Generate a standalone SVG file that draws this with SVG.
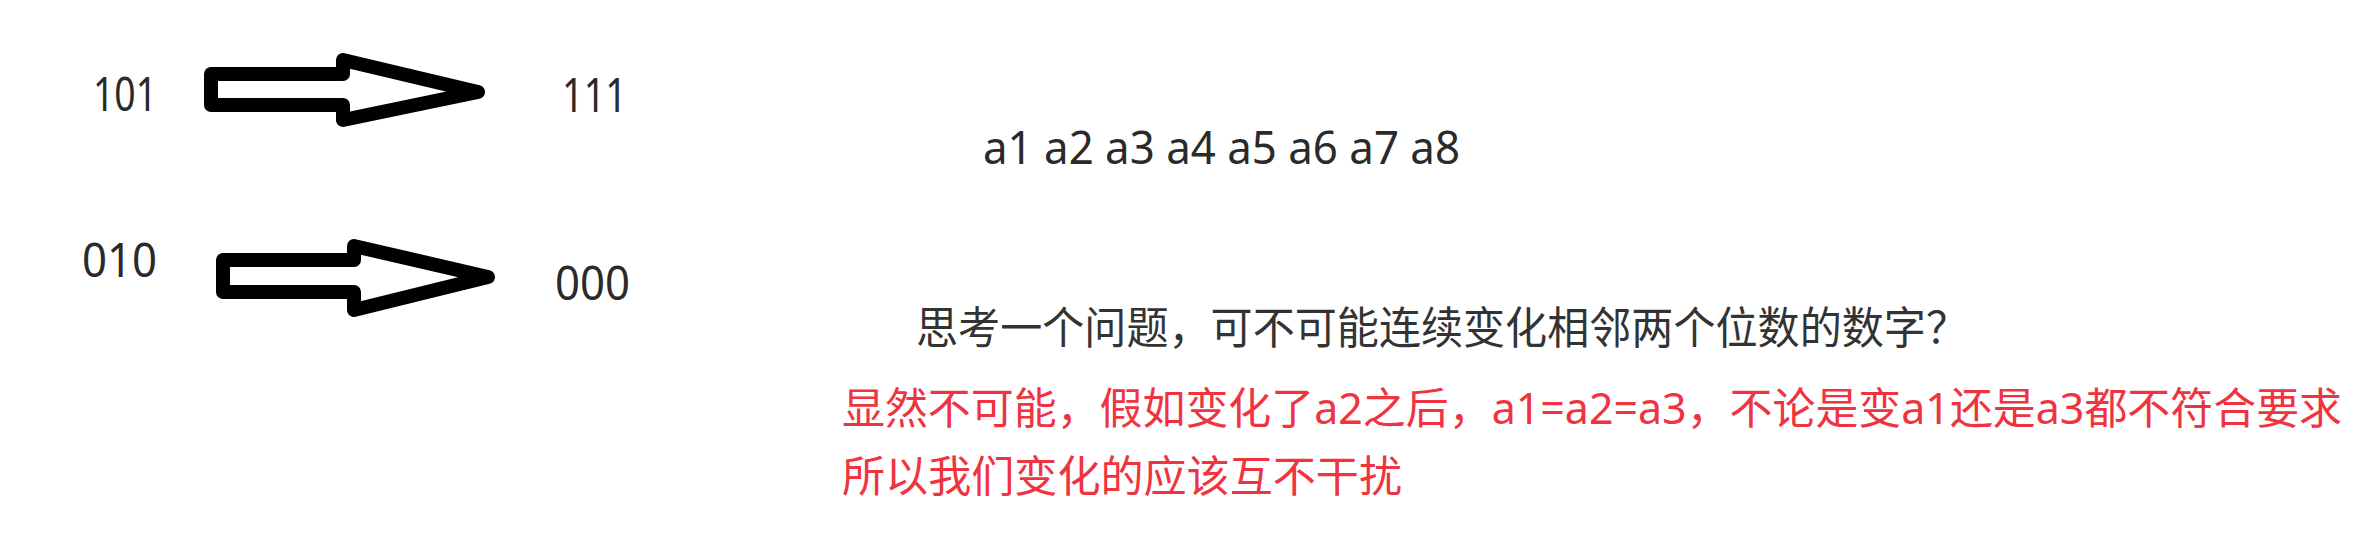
<svg xmlns="http://www.w3.org/2000/svg" width="2357" height="549" viewBox="0 0 2357 549">
<style>
.num{font-family:"Noto Sans","Open Sans","Liberation Sans",sans-serif;font-size:48px;fill:#2a2a2a;}
.seq{font-family:"Noto Sans","Open Sans","Liberation Sans",sans-serif;font-size:45px;fill:#2a2a2a;}
.cn{font-family:"Noto Sans","Noto Sans CJK SC",sans-serif;font-size:44px;fill:#333333;}
.red{font-family:"Noto Sans","Noto Sans CJK SC",sans-serif;font-size:43px;fill:#ef3340;}
.arrow{fill:#ffffff;stroke:#000000;stroke-width:14;stroke-linejoin:round;}
</style>
<rect width="2357" height="549" fill="#ffffff"/>
<g id="n101"><text class="num" x="93" y="111" textLength="64" lengthAdjust="spacingAndGlyphs">101</text></g>
<g id="n111"><text class="num" x="562" y="112" textLength="65" lengthAdjust="spacingAndGlyphs">111</text></g>
<g id="n010"><text class="num" x="82" y="277" textLength="75" lengthAdjust="spacingAndGlyphs">010</text></g>
<g id="n000"><text class="num" x="555" y="300" textLength="75" lengthAdjust="spacingAndGlyphs">000</text></g>
<g id="connectors">
<polygon class="arrow" points="211,74 343,74 343,60 478,92 343,120 343,105 211,105"/>
<polygon class="arrow" points="223,260 354,260 354,246 488,277 354,310 354,292 223,292"/>
</g>
<g id="seq"><text class="seq" x="983" y="164" textLength="477" lengthAdjust="spacingAndGlyphs">a1 a2 a3 a4 a5 a6 a7 a8</text></g>
<g id="question"><text class="cn" x="916" y="344" textLength="1052" lengthAdjust="spacingAndGlyphs">思考一个问题，可不可能连续变化相邻两个位数的数字？</text></g>
<g id="answer">
<text class="red" x="842" y="424" textLength="1500" lengthAdjust="spacingAndGlyphs">显然不可能，假如变化了a2之后，a1=a2=a3，不论是变a1还是a3都不符合要求</text>
<text class="red" x="842" y="492" textLength="560" lengthAdjust="spacingAndGlyphs">所以我们变化的应该互不干扰</text>
</g>
</svg>
